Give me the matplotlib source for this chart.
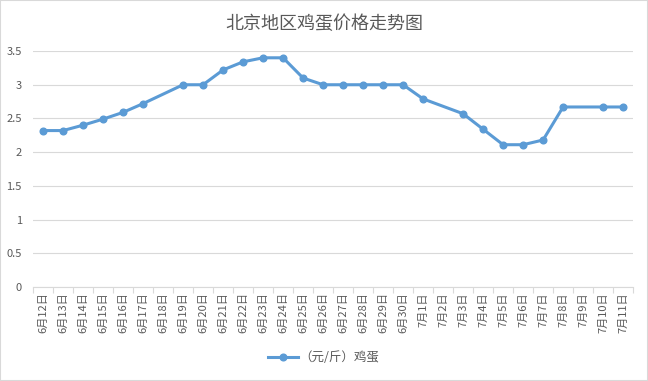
import numpy as np
import matplotlib.pyplot as plt
from matplotlib.patches import Rectangle

plt.rcParams['font.family'] = ['Noto Sans CJK SC', 'DejaVu Sans']

# data (None = no point that day)
dates = ['6月12日', '6月13日', '6月14日', '6月15日', '6月16日', '6月17日', '6月18日',
         '6月19日', '6月20日', '6月21日', '6月22日', '6月23日', '6月24日', '6月25日',
         '6月26日', '6月27日', '6月28日', '6月29日', '6月30日', '7月1日', '7月2日',
         '7月3日', '7月4日', '7月5日', '7月6日', '7月7日', '7月8日', '7月9日',
         '7月10日', '7月11日']
prices = [2.32, 2.32, 2.40, 2.49, 2.59, 2.72, None,
          3.00, 3.00, 3.22, 3.34, 3.40, 3.40, 3.10,
          3.00, 3.00, 3.00, 3.00, 3.00, 2.79, None,
          2.57, 2.34, 2.11, 2.11, 2.18, 2.67, None,
          2.67, 2.67]
yticks = [0, 0.5, 1, 1.5, 2, 2.5, 3, 3.5]

grey = '#595959'
blue = '#5B9BD5'

fig = plt.figure(figsize=(6.48, 3.81), dpi=100)
ax = fig.add_axes([0.051, 0.247, 0.926, 0.619])

# Excel connects across the gaps, so only plot the days that have a value
xs = [i for i, v in enumerate(prices) if v is not None]
ys = [v for v in prices if v is not None]
ax.plot(xs, ys, color=blue, lw=2.2, marker='o', ms=4.8, label='（元/斤）鸡蛋', zorder=3)

ax.set_xlim(-0.5, len(dates) - 0.5)
ax.set_ylim(0, 3.5)
ax.set_yticks(yticks)
ax.set_yticklabels(['%g' % t for t in yticks])
ax.grid(axis='y', color='#D9D9D9', lw=0.8)
ax.set_axisbelow(True)

# category labels in the middle, tick marks on the boundaries
ax.set_xticks(np.arange(len(dates) + 1) - 0.5)
ax.set_xticklabels([])
ax.set_xticks(np.arange(len(dates)), minor=True)
ax.set_xticklabels(dates, minor=True, rotation=90, va='top', ha='center')
ax.tick_params(axis='x', which='major', length=4, color='#D9D9D9', width=0.8)
ax.tick_params(axis='x', which='minor', length=0, pad=4, labelsize=8, labelcolor=grey)
ax.tick_params(axis='y', length=0, labelsize=8, labelcolor=grey, pad=8)

for s in ['top', 'right', 'left']:
    ax.spines[s].set_visible(False)
ax.spines['bottom'].set_color('#D9D9D9')
ax.spines['bottom'].set_linewidth(0.8)

fig.suptitle('北京地区鸡蛋价格走势图', y=0.96, fontsize=13, color=grey)

leg = fig.legend(loc='center', bbox_to_anchor=(0.5, 0.062), frameon=False,
                 fontsize=9, handlelength=2.4, handletextpad=0.1)
for t in leg.get_texts():
    t.set_color(grey)

# light frame round the whole chart
fig.patches.append(Rectangle((0, 0), 1, 1, transform=fig.transFigure, fill=False,
                             edgecolor='#D9D9D9', lw=1.5))

plt.savefig('out.png', dpi=100)
